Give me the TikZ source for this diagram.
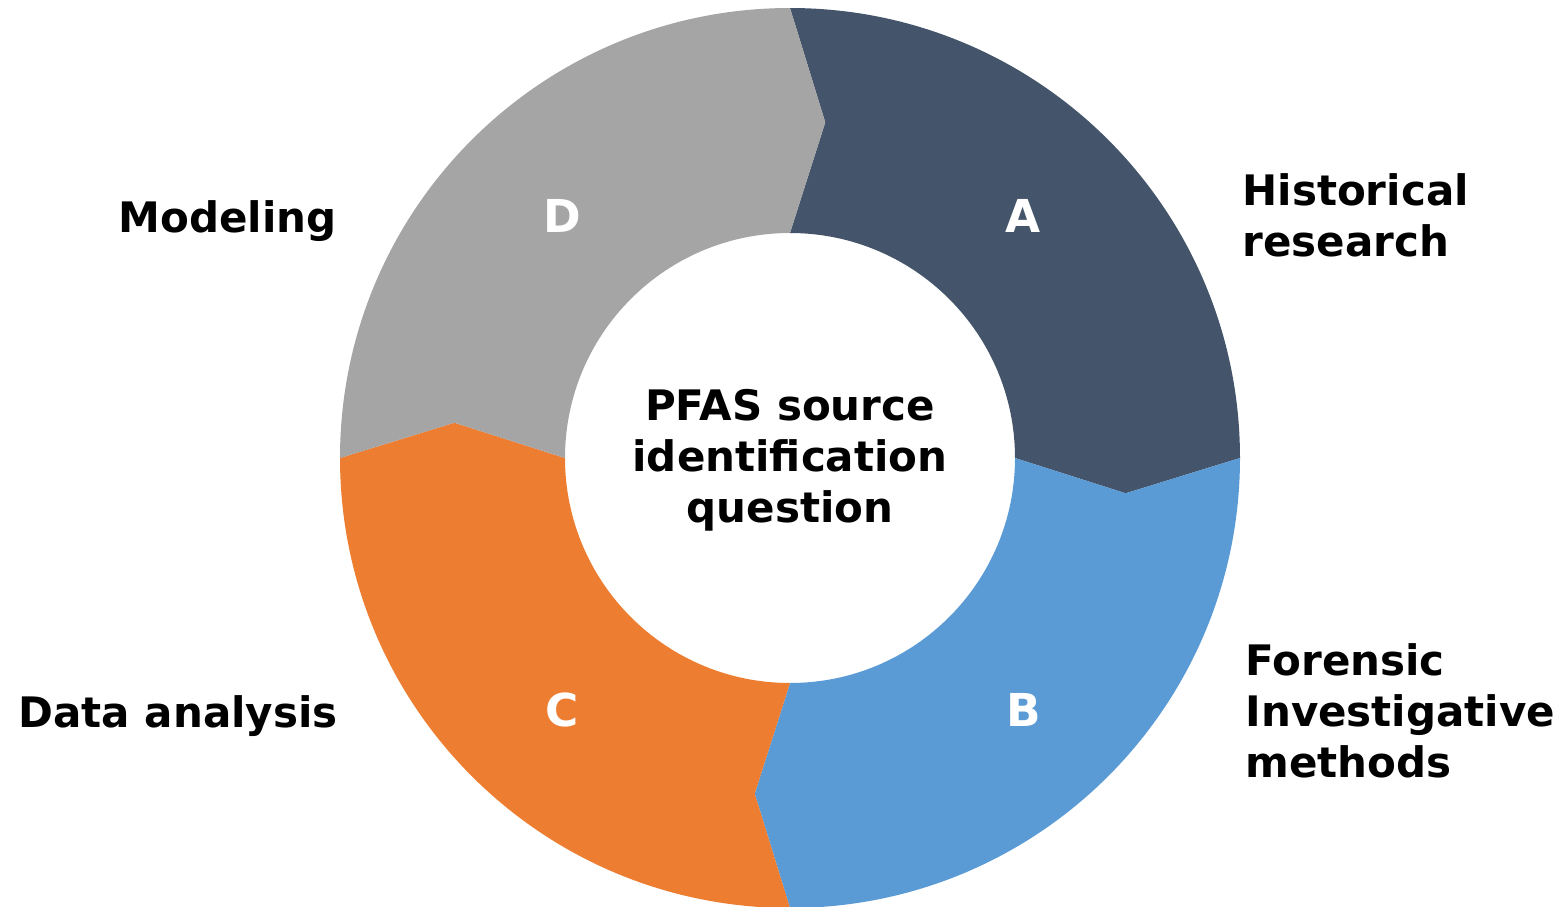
\documentclass[tikz,border=0pt]{standalone}
\usepackage{fontspec}
\setmainfont{DejaVu Sans}
\definecolor{segA}{HTML}{44546A}
\definecolor{segB}{HTML}{5B9BD5}
\definecolor{segC}{HTML}{ED7D31}
\definecolor{segD}{HTML}{A5A5A5}
\tikzset{every picture/.style={line width=0.75pt}}
\tikzset{
  lbl/.style={font=\bfseries\fontsize{31.5}{38.25}\selectfont, inner sep=0pt},
  letter/.style={inner sep=0pt, font=\bfseries\fontsize{34}{40}\selectfont, text=white},
}

\begin{document}
\begin{tikzpicture}[x=0.75pt,y=0.75pt,yscale=-1,xscale=1]
\useasboundingbox (0,0) rectangle (1568,907);

%Shape: Ring segments, each with an arrow point at its clockwise end
\begin{scope}[shift={(790,458)}]
\foreach \a/\c in {-90/segA, 0/segB, 90/segC, 180/segD}{
  \fill [\c] (\a:450) arc [start angle=\a, end angle=\a+90, radius=450]
    -- (\a+96:337.5) -- (\a+90:225)
    arc [start angle=\a+90, end angle=\a, radius=225]
    -- (\a+6:337.5) -- cycle ;
}
\end{scope}

% Text Node
\node [lbl, align=center] (q) at (790,460) {PFAS source\\identification\\question};
% Text Node
\node [letter] (A) at (1023,216) {A};
\node [letter] (B) at (1024,710) {B};
\node [letter] (C) at (562,710) {C};
\node [letter] (D) at (562,216) {D};
% Text Node
\node [lbl, align=left, anchor=west] (hist) at (1242,215) {Historical\\research};
\node [lbl, align=left, anchor=west] (fim) at (1245,711) {Forensic\\Investigative\\methods};
\node [lbl, anchor=base east] (model) at (337,232) {Modeling};
\node [lbl, anchor=base east] (data) at (338,727) {Data analysis};

\end{tikzpicture}
\end{document}
